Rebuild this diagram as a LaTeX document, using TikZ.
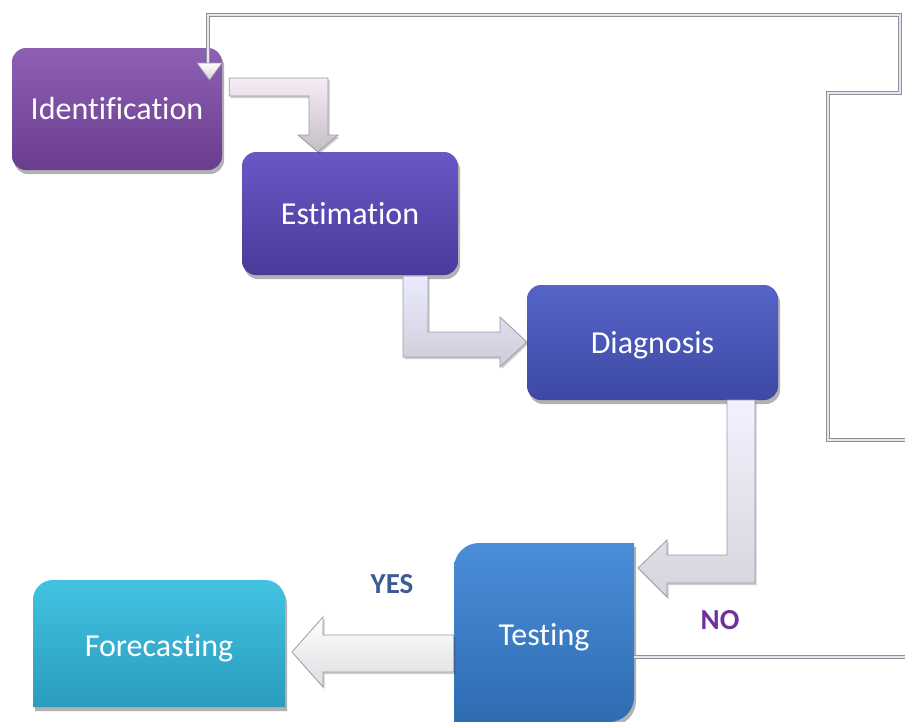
\documentclass[tikz,border=0pt]{standalone}
\usepackage{fontspec}
\setmainfont[RawFeature={-liga;-clig;-dlig}]{Carlito}
\usetikzlibrary{shadows,calc}
\definecolor{idtop}{HTML}{8E60B6}
\definecolor{idbot}{HTML}{6A3D8E}
\definecolor{esttop}{HTML}{6B57C6}
\definecolor{estbot}{HTML}{4A3A9A}
\definecolor{diatop}{HTML}{5664C8}
\definecolor{diabot}{HTML}{3D49A4}
\definecolor{testtop}{HTML}{4A8ED8}
\definecolor{testbot}{HTML}{2E6CB2}
\definecolor{fctop}{HTML}{42C2E2}
\definecolor{fcbot}{HTML}{2B9CBE}
\definecolor{arrowedge}{HTML}{9C9AAA}
\definecolor{yescol}{HTML}{3C5A94}
\definecolor{nocol}{HTML}{7030A0}
\definecolor{linecol}{HTML}{8C929C}
\definecolor{lineinner}{HTML}{E4E6EA}
\tikzset{
  boxtext/.style={text=white, font=\fontsize{32}{36}\selectfont},
  stepbox/.style={boxtext, rounded corners=14pt, inner sep=0pt,
    drop shadow={shadow xshift=2pt, shadow yshift=-4pt, opacity=0.3, fill=black}},
  shapeshadow/.style={drop shadow={shadow xshift=2pt, shadow yshift=-4pt, opacity=0.3, fill=black}},
  fatarrow/.style={draw=arrowedge, line width=0.8pt, line join=miter,
    drop shadow={shadow xshift=1.5pt, shadow yshift=-2pt, opacity=0.2, fill=black}},
  thinline/.style={draw=linecol, line width=1.3pt, double=lineinner, double distance=2.2pt},
  answer/.style={font=\bfseries\fontsize{29}{31}\selectfont, inner sep=0pt}
}
\begin{document}
\begin{tikzpicture}[x=1pt,y=-1pt]
\useasboundingbox (0,0) rectangle (905,721);
\clip (0,0) rectangle (905,721);
\fill[white] (0,0) rectangle (905,721);

% feedback loop coordinates
\coordinate (fbstart) at (905,657);
\coordinate (loopin) at (905,440);
\coordinate (c1) at (828,440);
\coordinate (c2) at (828,93);
\coordinate (c3) at (900,93);
\coordinate (c4) at (900,15);
\coordinate (c5) at (208,15);
\coordinate (c6) at (208,63);

% boxes
\node[stepbox, top color=idtop, bottom color=idbot,
  minimum width=210pt, minimum height=122pt] (id) at (117,109) {Identification};
\node[stepbox, top color=esttop, bottom color=estbot,
  minimum width=216pt, minimum height=123pt] (est) at (350,213.5) {Estimation};
\node[stepbox, top color=diatop, bottom color=diabot,
  minimum width=251pt, minimum height=115pt, text depth=0pt] (dia) at (652.5,342.5) {Diagnosis};

% Testing shape
\path[shapeshadow, top color=testtop, bottom color=testbot]
  (454,722) -- (454,568) arc[start angle=180, end angle=270, radius=25]
  -- (634,543) -- (634,697) arc[start angle=0, end angle=90, radius=25] -- cycle;
\node[boxtext, inner sep=0pt, minimum width=180pt, minimum height=179pt, text depth=0pt] (test) at (544,634.5) {Testing};

% Forecasting shape
\path[shapeshadow, top color=fctop, bottom color=fcbot]
  (33,707) -- (33,600) arc[start angle=180, end angle=270, radius=20]
  -- (265,580) arc[start angle=270, end angle=360, radius=20] -- (285,707) -- cycle;
\node[boxtext, inner sep=0pt, minimum width=252pt, minimum height=127pt, text depth=0pt] (fc) at (159,645.5) {Forecasting};

% thin feedback lines
\draw[thinline] (test.east |- fbstart) -- (fbstart);
\draw[thinline] (loopin) -- (c1) -- (c2) -- (c3) -- (c4) -- (c5) -- (c6);
\draw[draw=arrowedge, line width=0.7pt, top color=white, bottom color=gray!35]
  ($(c6)+(-11,0)$) -- ($(c6)+(14,0)$) -- ($(c6)+(1.5,17)$) -- cycle;

% fat arrows
\draw[fatarrow, top color=white!70!violet!25, bottom color=violet!12!gray!45]
  ($(id.east)+(7,-31)$) coordinate (a1)
  -- (a1 -| 328,0) -- (328,135) -- (338,135) -- (est.north -| 318,0) -- (298,135) -- (309,135)
  -- (309,96) -- (a1 |- 0,96) -- cycle;
\draw[fatarrow, top color=blue!8!white, bottom color=blue!12!gray!35]
  (403,276) -- (428,276) -- (428,332) -- (500,332) -- (500,317) -- (dia.west |- 0,342)
  -- (500,367) -- (500,357) -- (403,357) -- cycle;
\draw[fatarrow, top color=blue!5!white, bottom color=blue!10!gray!30]
  (727,400) -- (755,400) -- (755,583) -- (667,583) -- (667,597) -- (638,568)
  -- (667,540) -- (667,555) -- (727,555) -- cycle;
\draw[fatarrow, top color=white, bottom color=blue!5!gray!25]
  (test.west |- 0,635) -- (323,635) -- (323,617) -- (292,652) -- (323,687)
  -- (323,672) -- (test.west |- 0,672) -- cycle;

% labels
\node[answer, text=yescol] (yes) at (392,584) {YES};
\node[answer, text=nocol] (no) at (720,620) {NO};
\end{tikzpicture}
\end{document}
